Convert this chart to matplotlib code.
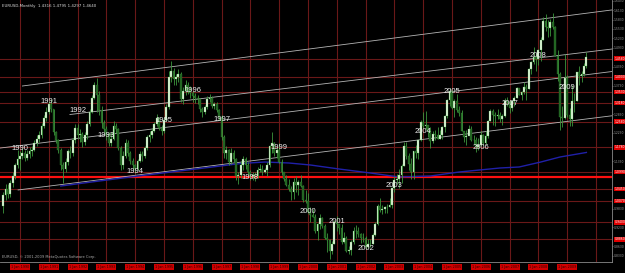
import numpy as np
import matplotlib
matplotlib.use('Agg')
import matplotlib.pyplot as plt
import matplotlib.transforms as mtransforms

# EURUSD monthly bars, Jun 1989 .. Sep 2009 (month index 0 = Jan 1990)
first_month = -7
first_open = 0.990
closes = [
    1.025, 1.045, 1.030, 1.065, 1.085, 1.120, 1.140,
    1.150, 1.160, 1.145, 1.155, 1.165, 1.170, 1.190, 1.205, 1.215, 1.245, 1.270, 1.290,
    1.315, 1.300, 1.225, 1.200, 1.170, 1.120, 1.110, 1.130, 1.165, 1.160, 1.200, 1.240,
    1.215, 1.220, 1.195, 1.215, 1.250, 1.290, 1.335, 1.375, 1.345, 1.295, 1.255, 1.235,
    1.215, 1.190, 1.205, 1.245, 1.235, 1.175, 1.120, 1.150, 1.190, 1.160, 1.135, 1.120,
    1.110, 1.135, 1.155, 1.150, 1.175, 1.210, 1.215, 1.230, 1.250, 1.270, 1.240, 1.230,
    1.265, 1.305, 1.400, 1.420, 1.395, 1.400, 1.410, 1.330, 1.355, 1.375, 1.360, 1.350,
    1.340, 1.335, 1.330, 1.300, 1.290, 1.305, 1.330, 1.335, 1.310, 1.315, 1.295, 1.275,
    1.210, 1.160, 1.170, 1.130, 1.160, 1.140, 1.085, 1.090, 1.120, 1.140, 1.120, 1.100,
    1.085, 1.090, 1.085, 1.105, 1.110, 1.100, 1.105, 1.120, 1.180, 1.190, 1.160, 1.170,
    1.1310, 1.0980, 1.0760, 1.0570, 1.0440, 1.0340, 1.0670, 1.0570, 1.0680, 1.0560, 1.0110, 1.0070,
    0.9710, 0.9640, 0.9570, 0.9120, 0.9330, 0.9530, 0.9270, 0.8890, 0.8830, 0.8490, 0.8700, 0.9390,
    0.9350, 0.9210, 0.8780, 0.8880, 0.8480, 0.8500, 0.8760, 0.9110, 0.9110, 0.9020, 0.8890, 0.8900,
    0.8600, 0.8690, 0.8720, 0.9000, 0.9330, 0.9910, 0.9780, 0.9810, 0.9870, 0.9880, 0.9930, 1.0490,
    1.0740, 1.0780, 1.0910, 1.1180, 1.1800, 1.1500, 1.1230, 1.0980, 1.1650, 1.1590, 1.1990, 1.2590,
    1.2450, 1.2470, 1.2300, 1.1980, 1.2200, 1.2180, 1.2030, 1.2170, 1.2420, 1.2770, 1.3270, 1.3560,
    1.3030, 1.3250, 1.2960, 1.2870, 1.2300, 1.2100, 1.2130, 1.2340, 1.2020, 1.1990, 1.1790, 1.1840,
    1.2160, 1.1920, 1.2120, 1.2620, 1.2920, 1.2790, 1.2770, 1.2800, 1.2680, 1.2760, 1.3250, 1.3200,
    1.3020, 1.3230, 1.3350, 1.3650, 1.3450, 1.3540, 1.3690, 1.3640, 1.4260, 1.4480, 1.4630, 1.4590,
    1.4860, 1.5190, 1.5790, 1.5600, 1.5550, 1.5750, 1.5600, 1.4680, 1.4100, 1.2740, 1.2700, 1.3980,
    1.2800, 1.2680, 1.3250, 1.3240, 1.4150, 1.4030, 1.4100, 1.4340, 1.4640,
]
highs = [
    1.035, 1.060, 1.062, 1.075, 1.098, 1.128, 1.170,
    1.165, 1.175, 1.170, 1.170, 1.178, 1.182, 1.200, 1.215, 1.230, 1.255, 1.280, 1.305,
    1.325, 1.332, 1.300, 1.230, 1.205, 1.175, 1.130, 1.145, 1.172, 1.180, 1.208, 1.250,
    1.250, 1.235, 1.225, 1.225, 1.262, 1.298, 1.345, 1.385, 1.397, 1.355, 1.310, 1.265,
    1.245, 1.225, 1.225, 1.260, 1.255, 1.240, 1.180, 1.165, 1.205, 1.200, 1.165, 1.145,
    1.125, 1.140, 1.165, 1.165, 1.180, 1.215, 1.230, 1.238, 1.258, 1.282, 1.275, 1.248,
    1.275, 1.315, 1.420, 1.450, 1.428, 1.410, 1.425, 1.415, 1.370, 1.390, 1.385, 1.372,
    1.355, 1.350, 1.345, 1.335, 1.305, 1.312, 1.340, 1.348, 1.340, 1.322, 1.322, 1.300,
    1.280, 1.215, 1.180, 1.172, 1.175, 1.170, 1.145, 1.100, 1.135, 1.150, 1.148, 1.130,
    1.105, 1.100, 1.100, 1.115, 1.125, 1.120, 1.112, 1.130, 1.185, 1.225, 1.195, 1.178,
    1.1906, 1.1390, 1.1000, 1.0900, 1.0760, 1.0560, 1.0790, 1.0860, 1.0740, 1.0880, 1.0590, 1.0410,
    1.0335, 0.9880, 0.9800, 0.9650, 0.9380, 0.9650, 0.9550, 0.9340, 0.9040, 0.8860, 0.8800, 0.9460,
    0.9590, 0.9350, 0.9350, 0.9080, 0.8950, 0.8640, 0.8830, 0.9240, 0.9320, 0.9230, 0.9050, 0.9060,
    0.8950, 0.8850, 0.8850, 0.9040, 0.9390, 0.9960, 1.0180, 0.9930, 0.9920, 0.9960, 1.0150, 1.0490,
    1.0850, 1.0940, 1.1080, 1.1230, 1.1930, 1.1930, 1.1590, 1.1450, 1.1670, 1.1850, 1.2000, 1.2650,
    1.2900, 1.2930, 1.2390, 1.2420, 1.2280, 1.2330, 1.2430, 1.2310, 1.2450, 1.2810, 1.3320, 1.3670,
    1.3580, 1.3300, 1.3480, 1.3090, 1.2950, 1.2300, 1.2330, 1.2490, 1.2460, 1.2160, 1.2100, 1.2080,
    1.2290, 1.2190, 1.2290, 1.2650, 1.2980, 1.2980, 1.2880, 1.2980, 1.2880, 1.2820, 1.3330, 1.3370,
    1.3260, 1.3250, 1.3390, 1.3680, 1.3630, 1.3560, 1.3850, 1.3770, 1.4280, 1.4520, 1.4970, 1.4760,
    1.4900, 1.5270, 1.5910, 1.6020, 1.5820, 1.5840, 1.6040, 1.5620, 1.4870, 1.4160, 1.3100, 1.4720,
    1.4060, 1.3010, 1.3740, 1.3490, 1.4180, 1.4340, 1.4200, 1.4450, 1.4795,
]
lows = [
    0.970, 1.010, 1.015, 1.020, 1.050, 1.078, 1.112,
    1.105, 1.140, 1.135, 1.138, 1.145, 1.150, 1.165, 1.180, 1.195, 1.208, 1.240, 1.262,
    1.282, 1.290, 1.215, 1.190, 1.160, 1.105, 1.065, 1.100, 1.120, 1.145, 1.150, 1.190,
    1.205, 1.195, 1.178, 1.185, 1.205, 1.245, 1.285, 1.330, 1.290, 1.280, 1.240, 1.225,
    1.200, 1.180, 1.180, 1.200, 1.222, 1.170, 1.105, 1.110, 1.145, 1.150, 1.125, 1.110,
    1.095, 1.105, 1.130, 1.135, 1.145, 1.170, 1.195, 1.208, 1.225, 1.245, 1.232, 1.215,
    1.222, 1.260, 1.300, 1.385, 1.375, 1.375, 1.385, 1.320, 1.315, 1.345, 1.348, 1.335,
    1.320, 1.318, 1.315, 1.290, 1.275, 1.282, 1.298, 1.320, 1.302, 1.300, 1.288, 1.265,
    1.200, 1.145, 1.140, 1.120, 1.125, 1.130, 1.075, 1.060, 1.080, 1.105, 1.110, 1.092,
    1.075, 1.075, 1.072, 1.080, 1.098, 1.090, 1.095, 1.085, 1.115, 1.160, 1.150, 1.145,
    1.1270, 1.0904, 1.0700, 1.0550, 1.0400, 1.0105, 1.0130, 1.0350, 1.0260, 1.0510, 1.0040, 1.0000,
    0.9680, 0.9390, 0.9560, 0.9050, 0.8845, 0.9180, 0.9220, 0.8860, 0.8450, 0.8228, 0.8400, 0.8690,
    0.9130, 0.9020, 0.8720, 0.8740, 0.8450, 0.8390, 0.8350, 0.8720, 0.8880, 0.8920, 0.8750, 0.8760,
    0.8560, 0.8580, 0.8600, 0.8720, 0.8970, 0.9300, 0.9710, 0.9650, 0.9680, 0.9690, 0.9880, 0.9860,
    1.0340, 1.0600, 1.0490, 1.0640, 1.1170, 1.1400, 1.1060, 1.0770, 1.0770, 1.1440, 1.1400, 1.1960,
    1.2380, 1.2360, 1.2100, 1.1760, 1.1900, 1.1990, 1.2030, 1.2040, 1.2050, 1.2250, 1.2700, 1.3090,
    1.2990, 1.2730, 1.2880, 1.2780, 1.2290, 1.1950, 1.1860, 1.2150, 1.1980, 1.1870, 1.1640, 1.1700,
    1.1800, 1.1850, 1.1870, 1.2060, 1.2620, 1.2480, 1.2460, 1.2660, 1.2570, 1.2480, 1.2750, 1.3070,
    1.2860, 1.2930, 1.3100, 1.3340, 1.3420, 1.3260, 1.3480, 1.3260, 1.3620, 1.4090, 1.4410, 1.4200,
    1.4390, 1.4510, 1.5170, 1.5470, 1.5290, 1.5320, 1.5540, 1.4670, 1.3880, 1.2330, 1.2420, 1.2660,
    1.2750, 1.2460, 1.2460, 1.2890, 1.3240, 1.3750, 1.3860, 1.4050, 1.4300,
]

# yearly annotations (placed at January of each year)
years = list(range(1990, 2010))
year_label_prices = [1.175, 1.324, 1.293, 1.216, 1.099, 1.264, 1.359, 1.267, 1.080, 1.178,
                     0.975, 0.943, 0.855, 1.055, 1.226, 1.356, 1.178, 1.315, 1.470, 1.366]

# channel lines: (start month, start price, end month, end price)
channels = [
    (1.0, 1.372, 246.7, 1.6135),
    (20.8, 1.2815, 246.7, 1.4894),
    (-8.3, 1.175, 246.7, 1.418),
    (-0.8, 1.042, 246.7, 1.2775),
]

# long moving average
ma_months = [17, 33, 51, 75, 92, 102, 112, 121, 133, 146, 158, 171, 183, 200, 208, 217, 225, 236]
ma_prices = [1.0545, 1.0704, 1.0879, 1.1101, 1.1260, 1.1307, 1.1276, 1.1212, 1.1085, 1.0958,
             1.0831, 1.0863, 1.0990, 1.1117, 1.1149, 1.1307, 1.1466, 1.1610]

# horizontal price lines
hlines = [1.4580, 1.4000, 1.3530, 1.3180, 1.2580, 1.1780, 1.0990, 1.0830, 1.0450, 1.0070, 0.9400, 0.8860]
bold_hline = 1.0830

# vertical lines at each January
vline_years = list(range(1990, 2011))

months = np.arange(first_month, first_month + len(closes))
closes = np.array(closes)
highs = np.array(highs)
lows = np.array(lows)
opens = np.concatenate([[first_open], closes[:-1]])

fig = plt.figure(figsize=(6.25, 2.73), dpi=100, facecolor='black')
ax = fig.add_axes([0, 11 / 273, 612 / 625, 262 / 273])
ax.set_facecolor('black')
ax.set_xlim(-8.33, 246.67)
ax.set_ylim(0.8133, 1.645)

# object lines
for yr in vline_years:
    ax.axvline(12 * (yr - 1990), color='#6a1818', lw=0.8, zorder=1)
for p in hlines:
    if p == bold_hline:
        ax.axhline(p, color='#ff1010', lw=1.6, zorder=1)
    else:
        ax.axhline(p, color='#6a1818', lw=0.8, zorder=1)

# candles
up = closes >= opens
ax.vlines(months, lows, highs, color='#3c963c', lw=0.6, zorder=3)
ax.bar(months[up], (closes - opens)[up], bottom=opens[up], width=0.75,
       color='#e4f7dc', edgecolor='#4caf50', linewidth=0.2, zorder=4)
ax.bar(months[~up], (opens - closes)[~up], bottom=closes[~up], width=0.75,
       color='#1f5f1f', edgecolor='#3c963c', linewidth=0.2, zorder=4)

# channel and moving average
for m0, p0, m1, p1 in channels:
    ax.plot([m0, m1], [p0, p1], color='#b4b4b4', lw=0.6, zorder=2)
ax.plot(ma_months, ma_prices, color='#2020a8', lw=1.0, zorder=2)

for yr, p in zip(years, year_label_prices):
    ax.text(12 * (yr - 1990), p, str(yr), color='#eeeeee', fontsize=5.5,
            family='Liberation Sans', ha='center', va='center', zorder=6)

# right price scale, skipping ticks hidden under the price line labels
ax.yaxis.tick_right()
ticks = [t for t in np.arange(0.8330, 1.645, 0.03)
         if min(abs(t - p) for p in hlines) > 0.016]
ax.set_yticks(ticks)
ax.set_yticklabels(['%.4f' % t for t in ticks])
ax.tick_params(axis='y', colors='#9a9a9a', labelsize=2.2, length=1, width=0.4, pad=0.5)
ax.tick_params(axis='x', bottom=False, labelbottom=False)
for s in ['top', 'left']:
    ax.spines[s].set_visible(False)
for s in ['right', 'bottom']:
    ax.spines[s].set_color('#8a8a8a')
    ax.spines[s].set_linewidth(0.6)

rtrans = mtransforms.blended_transform_factory(ax.transAxes, ax.transData)
shown = []
for p in sorted(hlines, reverse=True):
    # labels of lines that sit too close together share one slot in MT4
    if shown and shown[-1] - p < 0.02:
        continue
    shown.append(p)
    ax.text(1.004, p, '%.4f' % p, transform=rtrans,
            fontsize=2.2, color='white', va='center', ha='left', clip_on=False,
            bbox=dict(boxstyle='square,pad=0.15', fc='#e00000', ec='none'), zorder=7)

btrans = mtransforms.blended_transform_factory(ax.transData, ax.transAxes)
for yr in vline_years[:-1]:
    ax.text(12 * (yr - 1990), -0.012, '1 Jan %d' % yr, transform=btrans, fontsize=2.4,
            color='#300000', ha='center', va='top', clip_on=False,
            bbox=dict(boxstyle='square,pad=0.3', fc='#d00000', ec='none'))

ax.text(0.004, 0.985, 'EURUSD,Monthly  1.4316 1.4795 1.4297 1.4640', transform=ax.transAxes,
        fontsize=2.8, color='#dddddd', ha='left', va='top')
ax.text(0.004, 0.012, 'EURUSD, \u00a9 2001-2009 MetaQuotes Software Corp.', transform=ax.transAxes,
        fontsize=2.6, color='#aaaaaa', ha='left', va='bottom')

plt.savefig('out.png', dpi=100, facecolor='black')
